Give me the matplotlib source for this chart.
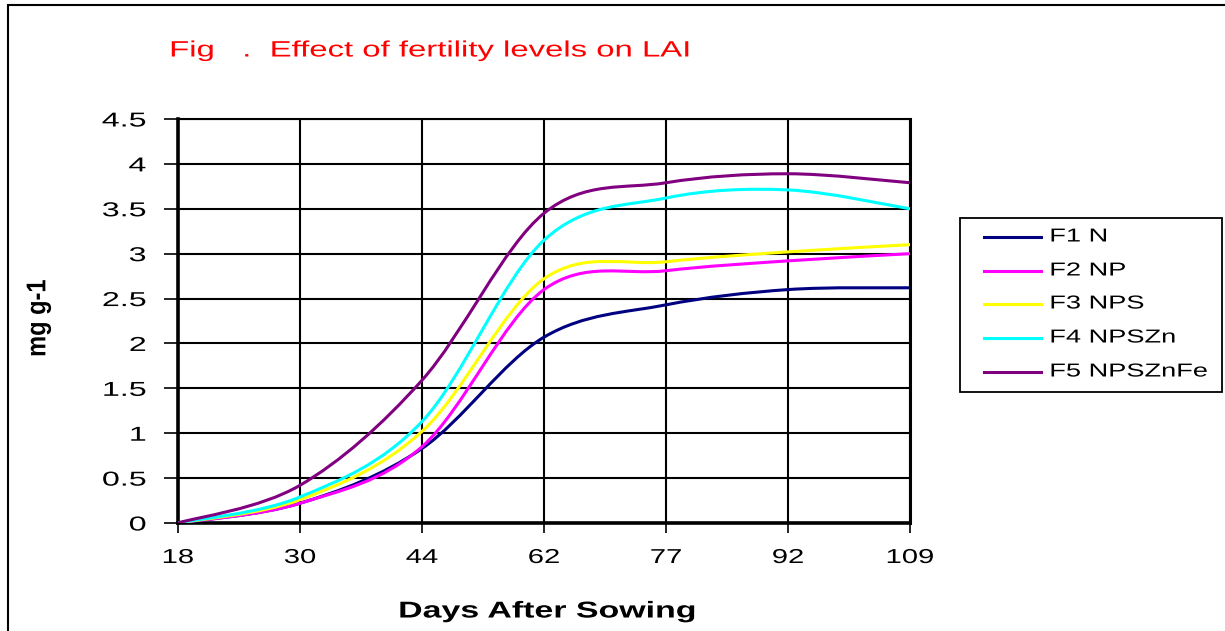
import numpy as np
import matplotlib
matplotlib.use("Agg")
import matplotlib.pyplot as plt
from matplotlib.path import Path
from matplotlib.patches import PathPatch, Rectangle
from matplotlib.lines import Line2D
from matplotlib.patheffects import AbstractPathEffect
from matplotlib.transforms import Affine2D

plt.rcParams['font.family'] = ['Liberation Sans', 'DejaVu Sans']

days = ["18", "30", "44", "62", "77", "92", "109"]
f1_n = [0.0, 0.22, 0.83, 2.07, 2.43, 2.60, 2.62]
f2_np = [0.0, 0.22, 0.85, 2.60, 2.81, 2.92, 3.00]
f3_nps = [0.0, 0.26, 1.02, 2.72, 2.91, 3.02, 3.10]
f4_npszn = [0.0, 0.29, 1.13, 3.15, 3.62, 3.71, 3.50]
f5_npsznfe = [0.0, 0.42, 1.59, 3.45, 3.79, 3.89, 3.79]
y_ticks = [0, 0.5, 1, 1.5, 2, 2.5, 3, 3.5, 4, 4.5]
y_tick_labels = ["0", "0.5", "1", "1.5", "2", "2.5", "3", "3.5", "4", "4.5"]

series = [
    ("F1 N", f1_n, "#000080"),
    ("F2 NP", f2_np, "#FF00FF"),
    ("F3 NPS", f3_nps, "#FFFF00"),
    ("F4 NPSZn", f4_npszn, "#00FFFF"),
    ("F5 NPSZnFe", f5_npsznfe, "#800080"),
]


class HStretch(AbstractPathEffect):
    """Draw text glyphs widened horizontally about an anchor fraction."""

    def __init__(self, sx, frac):
        super().__init__()
        self.sx = sx
        self.frac = frac

    def draw_path(self, renderer, gc, tpath, affine, rgbFace=None):
        ext = tpath.get_extents(affine)
        cx = ext.x0 + self.frac * ext.width
        t = affine + Affine2D().translate(-cx, 0).scale(self.sx, 1).translate(cx, 0)
        renderer.draw_path(gc, tpath, t, rgbFace)


W, H = 1225, 631
fig = plt.figure(figsize=(W / 100, H / 100), dpi=100)


def fx(px):
    return px / W


def fy(py):
    return 1 - py / H


# outer chart border
fig.patches.append(Rectangle((fx(8), fy(640)), fx(1240) - fx(8), fy(5) - fy(640),
                             transform=fig.transFigure, fill=False,
                             edgecolor='black', linewidth=1.5))

ax = fig.add_axes([fx(178), fy(523), fx(910) - fx(178), fy(119) - fy(523)])


def smooth_path(xs, ys):
    pts = np.column_stack([xs, ys]).astype(float)
    n = len(pts)
    verts = [pts[0]]
    codes = [Path.MOVETO]
    for i in range(n - 1):
        p0 = pts[i - 1] if i > 0 else pts[i]
        p1 = pts[i]
        p2 = pts[i + 1]
        p3 = pts[i + 2] if i + 2 < n else pts[i + 1]
        c1 = p1 + (p2 - p0) / 6.0
        c2 = p2 - (p3 - p1) / 6.0
        verts += [c1, c2, p2]
        codes += [Path.CURVE4] * 3
    return Path(verts, codes)


xs = np.arange(len(days))
for label, vals, color in series:
    ax.add_patch(PathPatch(smooth_path(xs, vals), fill=False, edgecolor=color,
                           linewidth=2.2, capstyle='round', joinstyle='round', zorder=3))

ax.set_xlim(0, len(days) - 1)
ax.set_ylim(0, 4.5)
ax.set_xticks(xs)
ax.set_xticklabels(days)
ax.set_yticks(y_ticks)
ax.set_yticklabels(y_tick_labels)
ax.grid(True, color='black', linewidth=1.5)
ax.set_axisbelow(True)
for s in ['left', 'bottom']:
    ax.spines[s].set_linewidth(2.6)
ax.spines['right'].set_linewidth(2.2)
ax.spines['top'].set_linewidth(1.5)
ax.tick_params(axis='x', direction='inout', length=14, width=1.2, labelsize=14.5, pad=11)
ax.tick_params(axis='y', direction='out', length=10, width=1.2, labelsize=14.5, pad=13)
for t in ax.xaxis.get_major_ticks():
    t.label1.set_path_effects([HStretch(1.45, 0.5)])
for t in ax.yaxis.get_major_ticks():
    t.label1.set_path_effects([HStretch(1.6, 1.0)])

title = fig.text(fx(170), fy(51), "Fig   .  Effect of fertility levels on LAI", color='red',
                 fontsize=16, ha='left', va='center')
title.set_path_effects([HStretch(1.48, 0.0)])
xl = fig.text(fx(547), fy(611), "Days After Sowing", fontsize=16.5, fontweight='bold',
              ha='center', va='center')
xl.set_path_effects([HStretch(1.48, 0.5)])
yl = fig.text(fx(38), fy(318), "mg g-1", fontsize=17, fontweight='bold', rotation=90,
              ha='center', va='center')
yl.set_path_effects([HStretch(1.15, 0.5)])

# legend
fig.patches.append(Rectangle((fx(960), fy(392)), fx(1222) - fx(960), fy(218) - fy(392),
                             transform=fig.transFigure, fill=False,
                             edgecolor='black', linewidth=1.3))
row_y = [237, 271, 304, 338, 372]
for (label, _, color), ry in zip(series, row_y):
    fig.add_artist(Line2D([fx(984), fx(1041)], [fy(ry), fy(ry)], color=color,
                          linewidth=2.2, transform=fig.transFigure))
    lt = fig.text(fx(1050), fy(ry), label, fontsize=13.5, ha='left', va='center')
    lt.set_path_effects([HStretch(1.45, 0.0)])

fig.savefig("out.png", dpi=100)
